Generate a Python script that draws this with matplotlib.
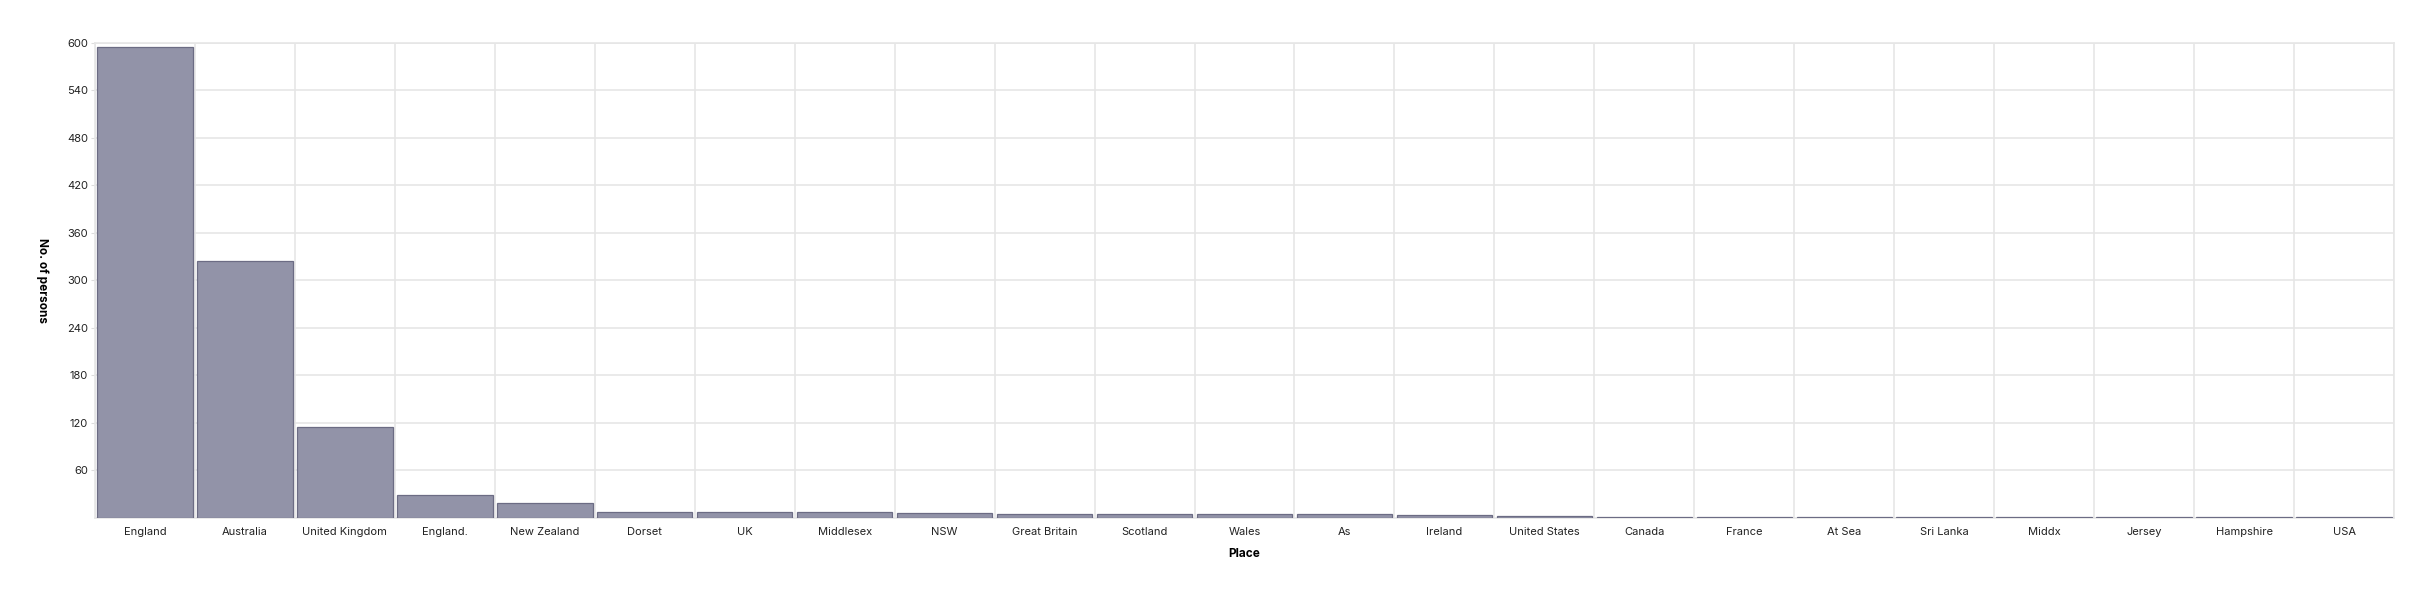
import matplotlib.pyplot as plt
from matplotlib.ticker import FixedLocator

places = ["England", "Australia", "United Kingdom", "England.", "New Zealand", "Dorset",
          "UK", "Middlesex", "NSW", "Great Britain", "Scotland", "Wales", "As", "Ireland",
          "United States", "Canada", "France", "At Sea", "Sri Lanka", "Middx", "Jersey",
          "Hampshire", "USA"]
persons = [595, 324, 114, 28, 18, 7, 7, 7, 6, 5, 4, 4, 4, 3, 2, 1, 1, 1, 1, 1, 1, 1, 1]
y_ticks = [60, 120, 180, 240, 300, 360, 420, 480, 540, 600]

plt.rcParams['font.family'] = ['Inter', 'DejaVu Sans']

fig = plt.figure(figsize=(24.34, 5.94), dpi=100)
ax = fig.add_axes([95 / 2434, 76.4 / 594, 2299 / 2434, 474.6 / 594])

x = list(range(len(places)))
ax.bar(x, persons, width=0.955, color="#9293a8", edgecolor="#6c6c84", linewidth=0.9, zorder=3)

ax.set_xlim(-0.5, len(places) - 0.5)
ax.set_ylim(0, 600)

# gridlines on band edges for x, every 60 for y
ax.xaxis.set_minor_locator(FixedLocator([i + 0.5 for i in range(-1, len(places))]))
ax.grid(which="minor", axis="x", color="#e6e6e6", linewidth=1.2, zorder=0)
ax.set_yticks(y_ticks)
ax.grid(which="major", axis="y", color="#e6e6e6", linewidth=1.2, zorder=0)

ax.set_xticks(x)
ax.set_xticklabels(places, fontsize=8, color="#222222")
ax.tick_params(axis="x", which="both", length=0, pad=7)
ax.tick_params(axis="y", length=3, color="#dddddd", labelsize=8, labelcolor="#222222", pad=2)

for s in ax.spines.values():
    s.set_color("#e6e6e6")
    s.set_linewidth(1.2)

ax.set_xlabel("Place", fontsize=8.5, fontweight="bold", labelpad=8)
ax.set_ylabel("No. of persons", fontsize=8.5, fontweight="bold", rotation=270, labelpad=28,
              va="center")
ax.yaxis.set_label_coords(-0.023, 0.5)

fig.savefig("out.png", dpi=100, facecolor="white")
